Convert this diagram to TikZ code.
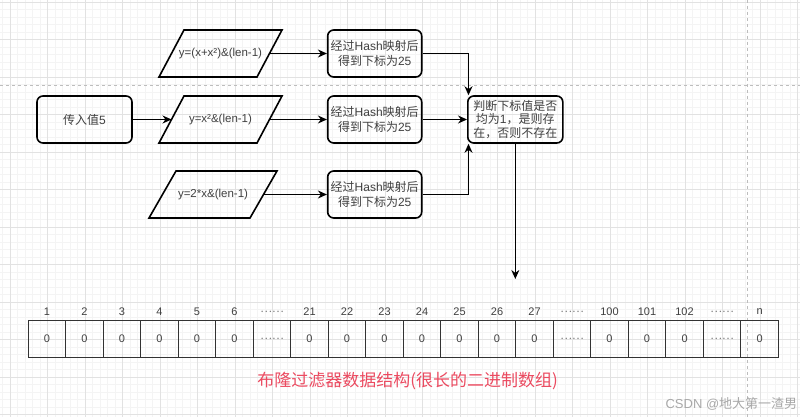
\documentclass[tikz,border=0pt]{standalone}
\usepackage{fontspec}
\setmainfont{Liberation Sans}
\newfontfamily\cjk{Noto Sans CJK SC}
\usetikzlibrary{shapes.geometric,arrows.meta,calc}
\definecolor{gridmajor}{HTML}{E2E2E2}
\definecolor{gridminor}{HTML}{F4F4F4}
\definecolor{dashgrey}{HTML}{BDBDBD}
\definecolor{txt}{HTML}{404040}
\definecolor{dottxt}{HTML}{808080}
\definecolor{redtxt}{HTML}{EB4A60}
\definecolor{wmtxt}{HTML}{A8A8A8}
\newcommand\zh[1]{{\cjk #1}}
\newcommand\zdots{{\cjk\color{dottxt}……}}
\begin{document}
\begin{tikzpicture}[x=1pt,y=-1pt,
  box/.style={draw=black, line width=1.6pt, rounded corners=6pt, minimum width=94pt, minimum height=47pt, inner sep=1pt, align=center, text=txt, font=\fontsize{12}{14.3}\selectfont},
  pnode/.style={minimum width=98pt, minimum height=47pt, inner sep=0pt, outer sep=0pt, text=txt, font=\fontsize{11.5}{14}\selectfont},
  pline/.style={draw=black, line width=1.6pt, line join=miter},
  conn/.style={draw=black, line width=1.1pt, -{Stealth[length=9pt,width=8pt]}},
  cell/.style={draw=black!80, line width=1.2pt, minimum width=37.5pt, minimum height=37.5pt, inner sep=0pt, text=txt, font=\fontsize{11}{12}\selectfont},
  idx/.style={text=txt, font=\fontsize{11}{12}\selectfont, inner sep=0pt},
]
\useasboundingbox[fill=white] (0,0) rectangle (800,417);
% grid
\foreach \k in {0,...,106} \draw[gridminor, line width=0.5pt] ({2.7+7.5*\k},0) -- ++(0,417);
\foreach \k in {0,...,55} \draw[gridminor, line width=0.5pt] (0,{2+7.5*\k}) -- ++(800,0);
\foreach \k in {0,...,21} \draw[gridmajor, line width=0.6pt] ({10.2+37.5*\k},0) -- ++(0,417);
\foreach \k in {0,...,11} \draw[gridmajor, line width=0.6pt] (0,{2+37.5*\k}) -- ++(800,0);
% dashed guides
\draw[dashgrey, line width=0.8pt, dash pattern=on 3pt off 3pt] (0,85.3) -- (800,85.3);
\draw[dashgrey, line width=0.8pt, dash pattern=on 3pt off 3pt] (747.5,0) -- (747.5,417);

% nodes
\node[box, minimum width=95pt] (in) at (84.5,119.5) {\zh{传入值}5};
\node[pnode] (p1) at (220.5,53.5) {y=(x+x²)\&(len-1)};
\node[pnode] (p2) at (220.5,119.5) {y=x²\&(len-1)};
\node[pnode, minimum width=101pt] (p3) at (213,194.5) {y=2*x\&(len-1)};
\foreach \p/\s in {p1/12.5,p2/12.5,p3/13.5}
  \draw[pline] ($(\p.south west)+(-\s,0)$) -- ($(\p.south east)+(-\s,0)$) -- ($(\p.north east)+(\s,0)$) -- ($(\p.north west)+(\s,0)$) -- cycle;
\node[box] (h1) at (374.7,53.5) {\zh{经过}Hash\zh{映射后}\\\zh{得到下标为}25};
\node[box] (h2) at (374.7,119.5) {\zh{经过}Hash\zh{映射后}\\\zh{得到下标为}25};
\node[box] (h3) at (374.7,194.5) {\zh{经过}Hash\zh{映射后}\\\zh{得到下标为}25};
\node[box, minimum width=95pt, font=\fontsize{12}{13.4}\selectfont] (j) at (515.3,119.5) {\zh{判断下标值是否}\\\zh{均为}1\zh{，是则存}\\\zh{在，否则不存在}};

% connectors
\coordinate (jt) at ($(j.north west)+(1.5,0)$);
\coordinate (jb) at ($(j.south west)+(1.5,0)$);
\coordinate (arr) at (516.7,279);
\draw[conn] (in.east) -- (p2.west);
\draw[conn] (p1.east) -- (h1.west);
\draw[conn] (p2.east) -- (h2.west);
\draw[conn] (p3.east) -- (h3.west);
\draw[conn] (h1.east) -| (jt);
\draw[conn] (h2.east) -- (j.west);
\draw[conn] (h3.east) -| (jb);
\draw[conn] (j.south) -- (j.south |- arr);

% array
\foreach [count=\i] \lab/\val in {1/0,2/0,3/0,4/0,5/0,6/0,{\zdots}/{\zdots},21/0,22/0,23/0,24/0,25/0,26/0,27/0,{\zdots}/{\zdots},100/0,101/0,102/0,{\zdots}/{\zdots},n/0} {
  \node[cell] (c\i) at ({28.3+37.5*(\i-0.5)},338.9) {\val};
  \node[idx] (l\i) at ({28.3+37.5*(\i-0.5)},311.7) {\lab};
}

\node[text=redtxt, font=\cjk\fontsize{17}{20}\selectfont, inner sep=0pt] (title) at (407.7,380.7) {布隆过滤器数据结构(很长的二进制数组)};
\node[text=wmtxt, font=\fontsize{13}{15}\selectfont, inner sep=0pt] (wm) at (731.4,404) {CSDN @\zh{地大第一渣男}};
\end{tikzpicture}
\end{document}
